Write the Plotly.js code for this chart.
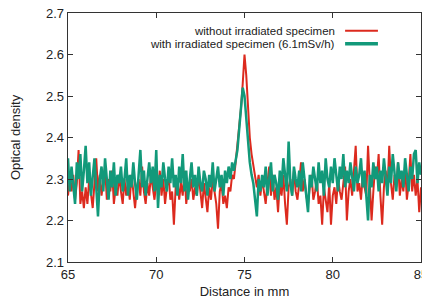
<!DOCTYPE html>
<html>
<head>
<meta charset="utf-8">
<script src="https://cdn.plot.ly/plotly-3.0.1.min.js"></script>
<style>html,body{margin:0;padding:0;background:#fff;}#chart{width:422px;height:299px;}</style>
</head>
<body>
<div id="chart"></div>
<script>
// Distance grid: 65.0 .. 85.0 mm in 0.1 mm steps (201 samples)
const xStart = 65.0;
const xStep = 0.1;

const seriesNames = ["without irradiated specimen", "with irradiated specimen (6.1mSv/h)"];

const withoutSpecimen = [
  2.26, 2.30, 2.27, 2.31, 2.25, 2.29, 2.37, 2.24, 2.27, 2.23,
  2.28, 2.24, 2.30, 2.26, 2.23, 2.29, 2.35, 2.27, 2.31, 2.26,
  2.29, 2.33, 2.25, 2.30, 2.27, 2.32, 2.24, 2.28, 2.26, 2.31,
  2.27, 2.24, 2.30, 2.26, 2.29, 2.25, 2.31, 2.27, 2.23, 2.28,
  2.30, 2.26, 2.33, 2.27, 2.24, 2.29, 2.26, 2.31, 2.28, 2.25,
  2.29, 2.27, 2.32, 2.26, 2.30, 2.24, 2.28, 2.31, 2.25, 2.27,
  2.19, 2.28, 2.30, 2.25, 2.29, 2.26, 2.32, 2.24, 2.28, 2.27,
  2.30, 2.25, 2.28, 2.26, 2.31, 2.27, 2.23, 2.29, 2.26, 2.22,
  2.28, 2.25, 2.30, 2.27, 2.24, 2.18, 2.27, 2.29, 2.24, 2.26,
  2.23, 2.28, 2.27, 2.31, 2.30, 2.34, 2.38, 2.42, 2.47, 2.53,
  2.60, 2.55, 2.47, 2.40, 2.36, 2.33, 2.30, 2.28, 2.31, 2.26,
  2.30, 2.27, 2.24, 2.29, 2.33, 2.26, 2.31, 2.25, 2.28, 2.22,
  2.29, 2.26, 2.31, 2.24, 2.19, 2.28, 2.30, 2.26, 2.32, 2.27,
  2.25, 2.29, 2.34, 2.27, 2.30, 2.26, 2.24, 2.28, 2.31, 2.25,
  2.27, 2.30, 2.24, 2.26, 2.19, 2.28, 2.25, 2.22, 2.29, 2.19,
  2.26, 2.28, 2.24, 2.30, 2.27, 2.25, 2.29, 2.33, 2.20, 2.27,
  2.30, 2.26, 2.32, 2.38, 2.27, 2.29, 2.25, 2.31, 2.28, 2.26,
  2.38, 2.29, 2.20, 2.27, 2.33, 2.30, 2.36, 2.26, 2.19, 2.28,
  2.32, 2.27, 2.38, 2.29, 2.25, 2.31, 2.28, 2.34, 2.26, 2.30,
  2.27, 2.33, 2.25, 2.29, 2.36, 2.27, 2.31, 2.26, 2.30, 2.22,
  2.28
];

const withSpecimen = [
  2.35, 2.27, 2.33, 2.29, 2.24, 2.34, 2.30, 2.36, 2.27, 2.32,
  2.38, 2.29, 2.34, 2.26, 2.31, 2.35, 2.28, 2.21, 2.30, 2.33,
  2.27, 2.35, 2.30, 2.25, 2.32, 2.28, 2.34, 2.26, 2.31, 2.29,
  2.33, 2.27, 2.30, 2.35, 2.26, 2.31, 2.28, 2.34, 2.29, 2.25,
  2.31, 2.37, 2.28, 2.32, 2.26, 2.30, 2.34, 2.29, 2.33, 2.27,
  2.37, 2.23, 2.31, 2.28, 2.34, 2.30, 2.27, 2.33, 2.29, 2.35,
  2.28, 2.31, 2.26, 2.33, 2.29, 2.36, 2.27, 2.32, 2.25, 2.30,
  2.34, 2.28, 2.31, 2.26, 2.33, 2.29, 2.27, 2.32, 2.30, 2.26,
  2.31, 2.28, 2.34, 2.27, 2.30, 2.33, 2.28, 2.31, 2.26, 2.32,
  2.29, 2.33, 2.30, 2.34, 2.32, 2.35, 2.37, 2.42, 2.47, 2.52,
  2.50, 2.44, 2.38, 2.34, 2.31, 2.29, 2.25, 2.21, 2.30, 2.27,
  2.31, 2.28, 2.33, 2.26, 2.30, 2.34, 2.27, 2.31, 2.29, 2.25,
  2.32, 2.28, 2.35, 2.30, 2.27, 2.39, 2.29, 2.26, 2.33, 2.30,
  2.28, 2.32, 2.27, 2.34, 2.29, 2.26, 2.22, 2.31, 2.28, 2.33,
  2.30, 2.27, 2.34, 2.29, 2.32, 2.26, 2.35, 2.30, 2.28, 2.33,
  2.29, 2.35, 2.31, 2.27, 2.33, 2.30, 2.36, 2.28, 2.32, 2.29,
  2.34, 2.30, 2.27, 2.33, 2.29, 2.31, 2.35, 2.28, 2.32, 2.26,
  2.20, 2.31, 2.28, 2.34, 2.30, 2.33, 2.27, 2.32, 2.29, 2.35,
  2.30, 2.26, 2.33, 2.29, 2.36, 2.31, 2.27, 2.34, 2.30, 2.32,
  2.28, 2.35, 2.31, 2.27, 2.33, 2.30, 2.36, 2.37, 2.29, 2.34,
  2.31
];

const xTicks = [65, 70, 75, 80, 85];
const yTicks = [2.1, 2.2, 2.3, 2.4, 2.5, 2.6, 2.7];

const distance = withoutSpecimen.map((_, i) => +(xStart + i * xStep).toFixed(2));

const RED = "#dc2a1e";
const GREEN = "#12997a";
const font = "Liberation Sans, Arial, sans-serif";

const traces = [
  {x: distance, y: withoutSpecimen, name: seriesNames[0], type: "scatter", mode: "lines",
   line: {color: RED, width: 2}},
  {x: distance, y: withSpecimen, name: seriesNames[1], type: "scatter", mode: "lines",
   line: {color: GREEN, width: 2.5}}
];

const axisCommon = {
  showline: true, mirror: "ticks", linecolor: "#333", linewidth: 1.3,
  ticks: "inside", ticklen: 5, tickcolor: "#333", tickwidth: 1,
  showgrid: false, zeroline: false, automargin: false,
  ticklabeloverflow: "allow",
  tickfont: {family: font, size: 13, color: "#222"}
};

const layout = {
  width: 422, height: 299,
  margin: {l: 68, r: 1, t: 13, b: 37},
  paper_bgcolor: "#fff", plot_bgcolor: "#fff",
  showlegend: false,
  xaxis: Object.assign({}, axisCommon, {
    range: [65, 85], tickvals: xTicks, ticktext: xTicks.map(String),
    title: {text: "Distance in mm", font: {family: font, size: 13, color: "#222"}, standoff: 9}
  }),
  yaxis: Object.assign({}, axisCommon, {
    range: [2.1, 2.7], tickvals: yTicks, ticktext: yTicks.map(v => v.toFixed(1)),
    title: {text: "Optical density", font: {family: font, size: 13, color: "#222"}, standoff: 22}
  }),
  annotations: [
    {xref: "paper", yref: "paper", x: 0.762, y: 0.9285, xanchor: "right", yanchor: "middle",
     text: seriesNames[0], showarrow: false, font: {family: font, size: 11.5, color: "#222"}},
    {xref: "paper", yref: "paper", x: 0.762, y: 0.8763, xanchor: "right", yanchor: "middle",
     text: seriesNames[1], showarrow: false, font: {family: font, size: 11.5, color: "#222"}}
  ],
  shapes: [
    {type: "line", xref: "paper", yref: "paper", x0: 0.785, x1: 0.878, y0: 0.9285, y1: 0.9285,
     line: {color: RED, width: 2}},
    {type: "line", xref: "paper", yref: "paper", x0: 0.785, x1: 0.878, y0: 0.8763, y1: 0.8763,
     line: {color: GREEN, width: 3.5}}
  ]
};

Plotly.newPlot("chart", traces, layout, {staticPlot: true, displayModeBar: false});
</script>
</body>
</html>
